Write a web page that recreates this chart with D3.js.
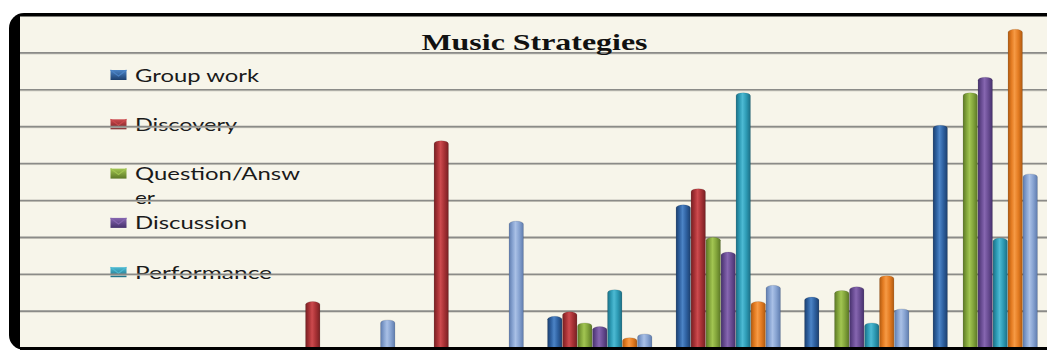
<!DOCTYPE html>
<html>
<head>
<meta charset="utf-8">
<script src="https://cdn.jsdelivr.net/npm/d3@7"></script>
<style>
  html, body { margin: 0; padding: 0; background: #ffffff; }
  svg { display: block; }
</style>
</head>
<body>
<svg id="chart" width="1047" height="352"></svg>
<script>
// ---- data ----
const title = "Music Strategies";
const categories = ["1", "2", "3", "4", "5", "6", "7", "8"];
const seriesNames = ["Group work", "Discovery", "Question/Answer", "Discussion", "Performance", "Series 6", "Series 7"];
const legendLines = [["Group work"], ["Discovery"], ["Question/Answ", "er"], ["Discussion"], ["Performance"]];
const groupWork      = [0, 0, 0,    0,    4.3, 19.4, 6.9, 30.2];
const discovery      = [0, 0, 6.3,  28.1, 4.9, 21.6, 0,   0];
const questionAnswer = [0, 0, 0,    0,    3.4, 15.0, 7.8, 34.6];
const discussion     = [0, 0, 0,    0,    2.9, 13.0, 8.3, 36.7];
const performance    = [0, 0, 0,    0,    7.9, 34.6, 3.4, 14.9];
const series6        = [0, 0, 0,    0,    1.4, 6.3,  9.8, 43.2];
const series7        = [0, 0, 3.8,  17.2, 1.9, 8.5,  5.3, 23.6];
const yTicks = [5, 10, 15, 20, 25, 30, 35, 40];
const yMax = 45;

const seriesValues = [groupWork, discovery, questionAnswer, discussion, performance, series6, series7];

// ---- styles ----
const palette = [
  {base: "#2f62a2", hi: "#4c84c6", dark: "#1c3f6e"},
  {base: "#a93236", hi: "#cc4a4e", dark: "#772023"},
  {base: "#84a63c", hi: "#a2c552", dark: "#5c7826"},
  {base: "#6a4d94", hi: "#8666b0", dark: "#46316c"},
  {base: "#2e9cb6", hi: "#4dbad3", dark: "#1c6f85"},
  {base: "#e57d23", hi: "#f69a45", dark: "#b05a10"},
  {base: "#88a4d2", hi: "#a9c0e6", dark: "#5f7cae"}
];

const svg = d3.select("#chart");
const defs = svg.append("defs");

palette.forEach((p, i) => {
  const g = defs.append("linearGradient").attr("id", "cyl" + i)
    .attr("x1", "0%").attr("x2", "100%").attr("y1", "0%").attr("y2", "0%");
  g.append("stop").attr("offset", "0%").attr("stop-color", p.dark);
  g.append("stop").attr("offset", "25%").attr("stop-color", p.base);
  g.append("stop").attr("offset", "45%").attr("stop-color", p.hi);
  g.append("stop").attr("offset", "70%").attr("stop-color", p.base);
  g.append("stop").attr("offset", "100%").attr("stop-color", p.dark);
  const m = defs.append("linearGradient").attr("id", "mk" + i)
    .attr("x1", "0%").attr("x2", "0%").attr("y1", "0%").attr("y2", "100%");
  m.append("stop").attr("offset", "0%").attr("stop-color", p.hi);
  m.append("stop").attr("offset", "100%").attr("stop-color", p.dark);
});

// frame
svg.append("rect").attr("x", 9).attr("y", 13).attr("width", 1070).attr("height", 337)
  .attr("rx", 15).attr("fill", "#000");
svg.append("rect").attr("x", 20).attr("y", 16.5).attr("width", 1060).attr("height", 330.5)
  .attr("fill", "#f7f5ea");

defs.append("clipPath").attr("id", "plotClip").append("rect")
  .attr("x", 20).attr("y", 16.5).attr("width", 1060).attr("height", 330.5);

const plot = svg.append("g").attr("clip-path", "url(#plotClip)");

// scales
const x0 = d3.scaleBand().domain(categories).range([21.5, 1049.5]).paddingInner(0.183).paddingOuter(0.0915);
const x1 = d3.scaleBand().domain(d3.range(seriesNames.length)).range([0, x0.bandwidth()]).padding(0);
const y = d3.scaleLinear().domain([0, yMax]).range([348, 16]);

// legend (only the entries visible in the original; the rest is cut off there)
const leg = plot.append("g");
const legendWidths = [[124], [102], [165, 20], [112], [137]];
legendLines.forEach((lines, i) => {
  const cy = 75 + i * 49.3;
  const gi = leg.append("g");
  gi.append("rect").attr("x", 110.5).attr("y", cy - 5).attr("width", 16).attr("height", 10)
    .attr("fill", "url(#mk" + i + ")");
  gi.append("path").attr("d", `M110.5,${cy - 5} L118.5,${cy + 1} L126.5,${cy - 5}`)
    .attr("fill", "none").attr("stroke", palette[i].hi).attr("stroke-width", 1.2).attr("opacity", 0.9);
  lines.forEach((t, j) => {
    const txt = gi.append("text").attr("x", 135).attr("y", cy + 6.5 + j * 24)
      .attr("font-family", "Lato, 'Open Sans', sans-serif").attr("font-size", 18)
      .attr("fill", "#1a1a1a").text(t);
    const w = legendWidths[i] && legendWidths[i][j];
    if (w) txt.attr("textLength", w).attr("lengthAdjust", "spacingAndGlyphs");
  });
});

// gridlines
const grid = plot.append("g");
grid.selectAll("line.sh").data(yTicks).join("line")
  .attr("x1", 20).attr("x2", 1080)
  .attr("y1", d => y(d) + 1).attr("y2", d => y(d) + 1)
  .attr("stroke", "#c8c6bc").attr("stroke-width", 1);
grid.selectAll("line.g").data(yTicks).join("line")
  .attr("x1", 20).attr("x2", 1080)
  .attr("y1", d => y(d)).attr("y2", d => y(d))
  .attr("stroke", "#8b8b88").attr("stroke-width", 1.6);

// title
svg.append("text").attr("x", 534.5).attr("y", 49.5).attr("text-anchor", "middle")
  .attr("font-family", "'Liberation Serif', 'Times New Roman', serif").attr("font-weight", "bold")
  .attr("font-size", 24).attr("fill", "#111")
  .attr("textLength", 226).attr("lengthAdjust", "spacingAndGlyphs")
  .text(title);

// bars
const bars = [];
categories.forEach((c, gi) => {
  seriesValues.forEach((vals, si) => {
    const v = vals[gi];
    if (v > 0) bars.push({c, gi, si, v});
  });
});
function cylPath(xl, w, yt, yb) {
  const rx = w / 2, ry = 3;
  return `M${xl},${yb} L${xl},${yt + ry} A${rx},${ry} 0 0 1 ${xl + w},${yt + ry} L${xl + w},${yb} Z`;
}
plot.append("g").selectAll("path").data(bars).join("path")
  .attr("d", d => {
    const xl = x0(d.c) + x1(d.si);
    return cylPath(xl + 0.3, x1.bandwidth() - 0.6, y(d.v), 348);
  })
  .attr("fill", d => "url(#cyl" + d.si + ")")
  .attr("stroke", "rgba(0,0,0,0.18)").attr("stroke-width", 0.6);

// bottom edge of frame
svg.append("rect").attr("x", 20).attr("y", 347).attr("width", 1060).attr("height", 3).attr("fill", "#000");
</script>
</body>
</html>
